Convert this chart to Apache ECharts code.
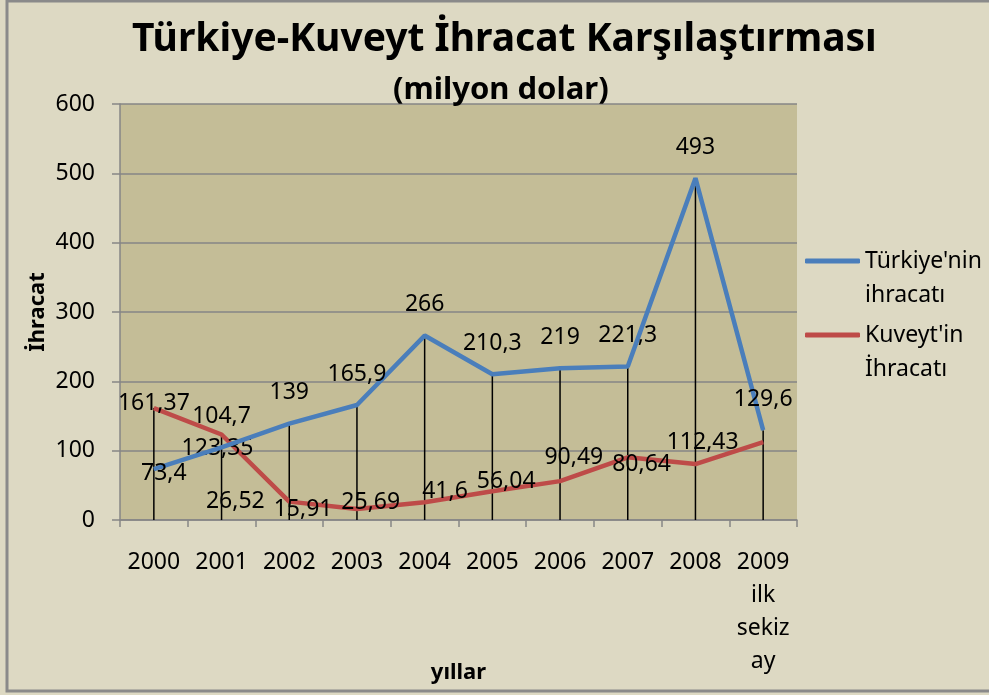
<!DOCTYPE html>
<html>
<head>
<meta charset="utf-8">
<script src="https://cdn.jsdelivr.net/npm/echarts@6/dist/echarts.min.js"></script>
<style>
html,body{margin:0;padding:0;background:#ddd9c3;}
#chart{width:989px;height:695px;}
</style>
</head>
<body>
<div id="chart"></div>
<script>
var FONT = "'Noto Sans', sans-serif";

// veriler
var years = ['2000', '2001', '2002', '2003', '2004', '2005', '2006', '2007', '2008', '2009\nilk\nsekiz\nay'];
var turkiye = [73.4, 104.7, 139, 165.9, 266, 210.3, 219, 221.3, 493, 129.6];
var kuveyt = [161.37, 123.35, 26.52, 15.91, 25.69, 41.6, 56.04, 90.49, 80.64, 112.43];
var yTicks = [0, 100, 200, 300, 400, 500, 600];

var seriesNames = ["Türkiye'nin ihracatı", "Kuveyt'in İhracatı"];

// etiket yerleşimi (bazı noktalar özel)
var trLabelFix = {0: {position: 'inside', offset: [10, 4]}};
var kwLabelFix = {
    0: {position: 'inside', offset: [0, -5]},
    1: {position: 'inside', offset: [-4, 14]}
};

function withLabels(values, fix) {
    return values.map(function (v, i) {
        var item = {value: v};
        if (fix[i]) item.label = fix[i];
        return item;
    });
}

var dropLines = turkiye.map(function (v, i) { return Math.max(v, kuveyt[i]); });
var fmt = function (p) { return String(p.value).replace('.', ','); };

var chart = echarts.init(document.getElementById('chart'));
var option = {
    backgroundColor: '#ddd9c3',
    animation: false,
    textStyle: {fontFamily: FONT},
    title: [{
        text: 'Türkiye-Kuveyt İhracat Karşılaştırması',
        left: 127,
        top: 15,
        textStyle: {fontSize: 39, fontWeight: 'bold', color: '#000', fontFamily: FONT}
    }, {
        text: '(milyon dolar)',
        left: 388,
        top: 70,
        textStyle: {fontSize: 31, fontWeight: 'bold', color: '#000', fontFamily: FONT}
    }],
    graphic: [{
        type: 'rect',
        shape: {x: 7, y: 1, width: 1000, height: 690},
        style: {fill: 'none', stroke: '#8a8a8a', lineWidth: 3},
        silent: true
    }],
    legend: {
        orient: 'vertical',
        left: 800,
        top: 205,
        itemWidth: 55,
        itemHeight: 5,
        itemGap: -28,
        icon: 'roundRect',
        data: seriesNames,
        formatter: function (n) { return '\n' + n.replace(' ', '\n'); },
        textStyle: {fontSize: 23, color: '#000', lineHeight: 34, fontFamily: FONT}
    },
    grid: {
        left: 120, right: 192, top: 104, bottom: 175,
        outerBoundsMode: 'none',
        show: true, backgroundColor: '#c4bd97', borderWidth: 0
    },
    xAxis: {
        type: 'category',
        data: years,
        name: 'yıllar',
        nameLocation: 'middle',
        nameGap: 142,
        nameMoveOverlap: false,
        nameTextStyle: {fontSize: 22, fontWeight: 'bold', color: '#000'},
        axisLine: {lineStyle: {color: '#868686', width: 1.5}},
        axisTick: {show: true, length: 7, lineStyle: {color: '#868686', width: 1.5}},
        axisLabel: {fontSize: 23, color: '#000', margin: 26, lineHeight: 33, interval: 0}
    },
    yAxis: {
        type: 'value',
        min: 0, max: 600, interval: 100,
        name: 'İhracat',
        nameLocation: 'middle',
        nameGap: 71,
        nameMoveOverlap: false,
        nameRotate: 90,
        nameTextStyle: {fontSize: 22, fontWeight: 'bold', color: '#000'},
        axisLine: {show: true, lineStyle: {color: '#868686', width: 1.5}},
        axisTick: {show: true, length: 8, lineStyle: {color: '#868686', width: 1.5}},
        axisLabel: {fontSize: 23, color: '#000', margin: 25,
            formatter: function (v) { return yTicks.indexOf(v) >= 0 ? String(v) : ''; }},
        splitLine: {lineStyle: {color: '#868686', width: 1.5}}
    },
    series: [{
        name: 'drop',
        type: 'bar',
        data: dropLines,
        barWidth: 1.5,
        itemStyle: {color: '#000'},
        silent: true,
        z: 1
    }, {
        name: seriesNames[0],
        type: 'line',
        data: withLabels(turkiye, trLabelFix),
        symbol: 'circle',
        symbolSize: 1,
        lineStyle: {color: '#4a7ebb', width: 4.5},
        itemStyle: {color: '#4a7ebb'},
        label: {show: true, position: 'top', distance: 19, fontSize: 23, color: '#000', formatter: fmt},
        z: 3
    }, {
        name: seriesNames[1],
        type: 'line',
        data: withLabels(kuveyt, kwLabelFix),
        symbol: 'circle',
        symbolSize: 1,
        lineStyle: {color: '#be4b48', width: 4.5},
        itemStyle: {color: '#be4b48'},
        label: {show: true, position: 'left', distance: 24, fontSize: 23, color: '#000', formatter: fmt},
        z: 2
    }]
};
chart.setOption(option);
</script>
</body>
</html>
